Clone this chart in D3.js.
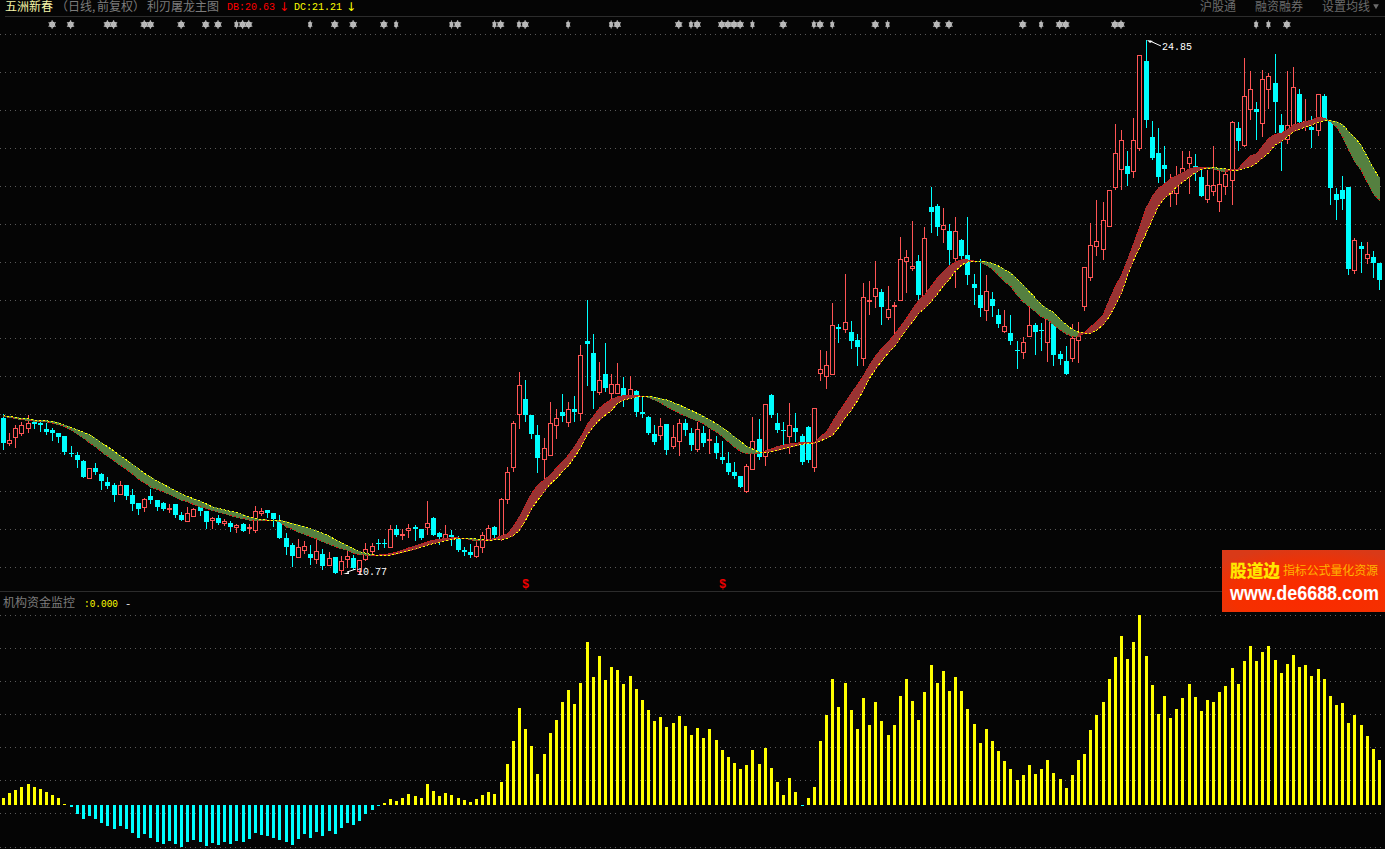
<!DOCTYPE html>
<html><head><meta charset="utf-8">
<script src="https://cdn.jsdelivr.net/npm/d3@7/dist/d3.min.js"></script>
<style>html,body{margin:0;padding:0;background:#050505;overflow:hidden}svg{display:block}</style>
</head><body><svg id="c" width="1385" height="849"></svg>
<script>
const highs=[14.99,14.49,14.70,14.78,14.96,14.83,14.80,14.75,14.62,14.49,
14.41,14.14,13.99,13.78,13.57,13.70,13.43,13.33,13.17,13.22,
13.12,13.01,12.64,12.77,13.01,12.72,12.67,12.62,12.62,12.40,
12.54,12.51,12.59,12.43,12.27,12.33,12.22,12.17,12.09,12.11,
12.09,12.56,12.51,12.46,12.38,12.33,11.85,11.59,11.69,11.64,
11.54,11.72,11.43,11.35,11.22,11.24,11.40,11.27,11.14,11.59,
11.59,11.69,11.69,12.06,12.06,11.96,12.09,12.06,11.96,12.69,
12.27,11.88,12.06,11.93,11.77,11.48,11.56,11.61,11.88,12.06,
12.04,12.77,13.59,14.80,16.10,15.89,14.96,14.70,14.36,15.31,
15.12,15.52,15.31,15.46,16.80,18.00,17.10,16.36,16.86,16.04,
16.33,15.96,15.99,15.62,15.44,14.94,14.70,14.88,14.73,14.70,
14.86,14.86,14.62,14.78,14.67,14.59,14.41,14.28,13.99,13.72,
13.35,13.67,14.91,14.86,15.25,15.52,15.01,14.78,15.28,15.01,
14.46,14.67,15.15,16.68,16.65,17.92,17.36,18.68,17.44,17.10,
18.44,18.50,19.02,18.28,18.36,17.94,19.66,19.31,20.08,19.18,
19.92,20.97,20.53,20.42,20.00,20.18,19.60,20.18,18.68,19.08,
18.65,18.21,17.76,17.73,17.60,16.91,17.02,17.89,17.39,17.39,
17.60,17.47,16.65,16.78,17.36,17.41,18.87,20.03,20.63,20.58,
20.90,22.64,22.48,21.92,22.79,24.46,24.85,22.71,22.53,22.06,
21.31,21.53,21.92,21.92,21.85,21.42,21.42,22.06,21.40,21.42,
22.71,22.69,24.38,24.03,23.22,24.06,23.98,24.48,22.90,24.03,
24.14,23.56,23.30,22.85,23.43,23.43,22.74,20.95,21.27,20.97,
19.63,19.52,19.52,19.29,18.97];
const bodyTops=[14.88,14.30,14.62,14.70,14.75,14.78,14.75,14.59,14.57,14.49,
14.41,13.96,13.91,13.75,13.57,13.57,13.41,13.20,13.12,13.12,
13.12,12.85,12.64,12.75,12.83,12.72,12.64,12.51,12.62,12.33,
12.38,12.48,12.54,12.43,12.25,12.25,12.17,12.11,12.06,12.09,
12.01,12.43,12.43,12.46,12.38,12.14,11.72,11.54,11.48,11.51,
11.30,11.38,11.30,11.19,11.22,11.11,11.24,11.19,11.14,11.43,
11.51,11.59,11.59,11.96,11.96,11.82,11.98,12.01,11.96,12.11,
12.25,11.85,11.82,11.80,11.69,11.40,11.35,11.51,11.80,11.98,
12.01,12.75,13.46,14.75,15.75,15.38,14.96,14.43,14.09,14.75,
14.88,15.04,15.12,15.12,16.54,16.91,16.60,15.89,16.04,15.78,
15.78,15.67,15.65,15.60,15.04,14.91,14.46,14.67,14.73,14.38,
14.75,14.75,14.49,14.59,14.49,14.33,14.23,13.86,13.70,13.46,
13.35,13.62,14.28,14.33,15.25,15.49,14.75,14.57,14.70,14.62,
14.41,14.65,15.15,16.18,16.28,17.34,17.28,17.41,17.15,16.94,
18.07,18.00,18.31,18.21,17.76,17.86,19.08,19.13,18.89,19.02,
19.63,20.45,20.47,19.97,19.81,19.81,19.58,19.18,18.42,18.13,
18.23,18.02,17.60,17.31,17.12,16.68,16.89,17.34,17.34,17.20,
17.57,17.44,16.57,16.39,16.99,17.10,18.87,19.45,19.55,20.11,
20.90,21.87,22.21,21.53,22.21,24.46,24.30,22.29,21.87,21.56,
21.05,21.03,21.48,21.77,21.53,21.24,21.03,21.03,21.05,21.32,
22.69,22.53,23.37,23.56,23.03,23.82,23.90,23.72,22.61,22.61,
23.61,23.43,22.71,22.56,23.43,23.37,22.71,20.79,20.90,20.97,
19.58,19.42,19.21,19.13,18.97];
const bodyBottoms=[14.23,14.23,14.38,14.49,14.62,14.73,14.70,14.51,14.49,14.38,
13.99,13.93,13.78,13.33,13.30,13.46,13.22,13.09,12.85,12.88,
12.83,12.62,12.48,12.54,12.72,12.54,12.48,12.48,12.33,12.19,
12.17,12.30,12.43,12.14,12.19,12.11,12.11,12.01,12.01,11.90,
11.98,11.93,12.38,12.38,12.22,11.72,11.48,11.24,11.22,11.40,
11.19,11.17,10.98,11.01,10.80,10.88,11.17,10.93,10.85,11.17,
11.38,11.56,11.58,11.48,11.80,11.80,11.93,11.96,11.72,12.01,
11.80,11.75,11.72,11.75,11.40,11.35,11.27,11.24,11.48,11.69,
11.80,11.77,12.75,13.59,14.99,14.96,14.46,13.83,13.80,13.91,
14.70,14.94,14.78,15.04,15.01,16.83,15.60,15.57,15.67,15.54,
15.54,15.44,15.46,15.04,14.99,14.49,14.25,14.43,14.04,14.14,
14.28,14.57,14.17,14.07,14.23,14.30,13.96,13.78,13.46,13.35,
13.06,12.96,13.54,13.86,13.88,14.96,14.57,14.54,14.41,14.51,
13.72,13.78,13.59,16.07,15.99,16.04,17.23,17.23,16.91,16.76,
16.47,17.97,18.10,17.81,17.55,17.84,18.00,19.02,18.84,18.13,
18.10,20.31,19.92,19.87,19.31,19.10,19.15,18.65,18.31,17.78,
17.73,17.84,17.36,17.18,16.91,16.65,16.62,17.05,17.15,17.18,
16.89,16.54,16.44,16.04,16.47,16.94,17.84,18.60,19.42,19.34,
19.95,20.97,21.45,21.32,21.40,22.00,22.74,21.74,21.24,21.45,
20.82,20.82,21.32,21.61,21.42,20.74,20.66,20.87,20.61,21.00,
21.16,22.19,22.08,23.03,22.95,22.66,23.56,23.22,22.40,22.24,
22.61,22.69,22.61,22.48,22.48,22.74,20.95,20.63,20.66,18.81,
18.79,19.34,19.10,18.97,18.52];
const lows=[14.07,14.17,14.12,14.43,14.51,14.62,14.54,14.46,14.30,14.25,
13.93,13.88,13.59,13.33,13.30,13.41,13.01,13.04,12.69,12.88,
12.75,12.46,12.35,12.43,12.64,12.46,12.46,12.40,12.27,12.19,
12.17,12.30,12.33,11.98,11.98,12.09,12.06,11.90,11.88,11.90,
11.85,11.88,12.33,12.27,12.04,11.72,11.30,10.98,11.22,11.32,
11.03,11.06,10.90,11.01,10.80,10.77,10.95,10.90,10.80,11.14,
11.30,11.43,11.48,11.48,11.77,11.69,11.75,11.67,11.69,11.82,
11.80,11.56,11.67,11.54,11.38,11.27,11.22,11.22,11.35,11.69,
11.69,11.67,12.64,13.49,14.62,14.80,14.36,13.46,13.30,13.91,
14.36,14.80,14.67,14.80,14.83,15.75,15.15,15.52,15.60,15.36,
15.54,15.20,15.41,14.94,14.91,14.46,14.20,14.33,13.93,14.09,
13.91,14.43,14.04,14.01,14.14,13.96,13.83,13.70,13.41,13.30,
13.06,12.93,13.54,13.80,13.64,14.91,14.51,14.17,13.96,14.28,
13.67,13.72,13.49,15.89,15.67,16.04,16.89,17.15,16.73,16.28,
16.28,17.63,17.81,17.36,17.50,17.07,18.00,18.21,18.79,17.94,
18.10,19.79,19.71,19.52,18.92,18.34,19.05,18.42,17.89,17.57,
17.47,17.57,17.28,17.15,16.83,16.20,16.47,17.05,16.57,16.68,
16.39,16.28,16.31,16.04,16.39,16.36,17.73,18.52,19.18,19.08,
19.95,20.92,20.92,21.03,21.24,21.95,22.56,21.71,21.11,21.03,
20.47,20.53,21.24,20.82,21.16,20.74,20.58,20.76,20.34,20.79,
20.53,21.95,22.06,22.77,22.24,22.32,23.06,22.42,21.42,22.13,
22.48,22.64,22.48,22.03,22.35,22.74,20.53,20.13,20.39,18.68,
18.71,18.73,18.97,18.60,18.28];
const risingDays=[1,2,3,4,14,19,23,27,30,31,34,36,38,40,41,42,48,49,51,53,55,56,58,59,60,63,65,66,69,72,77,78,79,81,82,83,84,88,89,90,92,94,97,99,100,102,107,109,110,113,115,121,122,124,128,132,133,134,135,137,140,141,142,144,145,146,147,148,150,153,155,160,163,166,167,170,174,175,176,177,178,179,180,181,182,184,185,190,191,192,193,196,197,198,199,200,202,203,205,206,209,210,212,214,220,222];
const seriesDC=[14.94,14.92,14.90,14.87,14.86,14.83,14.82,14.81,14.79,14.75,
14.69,14.63,14.57,14.51,14.44,14.34,14.22,14.12,14.01,13.89,
13.78,13.66,13.54,13.42,13.32,13.22,13.14,13.05,12.97,12.88,
12.81,12.75,12.69,12.62,12.54,12.50,12.46,12.42,12.39,12.33,
12.27,12.23,12.21,12.19,12.19,12.18,12.15,12.10,12.06,12.01,
11.96,11.90,11.84,11.77,11.68,11.60,11.51,11.43,11.36,11.32,
11.28,11.26,11.26,11.27,11.30,11.34,11.38,11.42,11.48,11.53,
11.57,11.61,11.65,11.68,11.71,11.71,11.71,11.69,11.67,11.66,
11.67,11.68,11.71,11.78,11.93,12.19,12.50,12.72,12.94,13.14,
13.29,13.47,13.63,13.86,14.11,14.43,14.65,14.83,14.96,15.09,
15.27,15.36,15.40,15.44,15.46,15.46,15.43,15.39,15.36,15.29,
15.23,15.15,15.08,15.00,14.92,14.83,14.74,14.63,14.52,14.38,
14.26,14.13,14.06,13.98,13.97,14.00,14.03,14.07,14.11,14.15,
14.19,14.21,14.22,14.28,14.35,14.43,14.64,14.88,15.09,15.33,
15.62,15.94,16.18,16.39,16.59,16.76,16.99,17.22,17.42,17.65,
17.78,17.95,18.15,18.36,18.54,18.77,18.92,19.00,19.02,19.02,
19.00,18.96,18.89,18.79,18.70,18.54,18.39,18.21,18.04,17.86,
17.75,17.66,17.49,17.34,17.22,17.15,17.12,17.12,17.20,17.34,
17.55,17.86,18.17,18.65,19.05,19.40,19.75,20.11,20.46,20.68,
20.81,20.98,21.11,21.23,21.35,21.44,21.47,21.48,21.47,21.45,
21.42,21.42,21.47,21.51,21.60,21.75,21.88,22.08,22.17,22.30,
22.43,22.50,22.55,22.61,22.68,22.72,22.72,22.70,22.61,22.43,
22.26,22.08,21.77,21.47,21.21];
const seriesDB=[14.92,14.90,14.87,14.84,14.82,14.80,14.79,14.78,14.75,14.71,
14.65,14.57,14.46,14.36,14.23,14.12,13.99,13.87,13.76,13.64,
13.53,13.41,13.27,13.17,13.06,13.00,12.95,12.87,12.79,12.72,
12.67,12.60,12.54,12.50,12.45,12.40,12.36,12.31,12.27,12.23,
12.19,12.19,12.19,12.18,12.18,12.14,12.02,11.96,11.88,11.82,
11.75,11.69,11.62,11.56,11.49,11.44,11.40,11.32,11.28,11.27,
11.26,11.27,11.28,11.31,11.35,11.40,11.46,11.51,11.56,11.62,
11.66,11.68,11.71,11.72,11.72,11.71,11.68,11.64,11.65,11.67,
11.71,11.77,11.82,12.02,12.28,12.59,12.90,13.12,13.25,13.38,
13.56,13.73,13.91,14.14,14.39,14.70,14.92,15.14,15.27,15.38,
15.44,15.47,15.48,15.47,15.46,15.43,15.36,15.28,15.18,15.09,
15.01,14.94,14.87,14.81,14.73,14.62,14.52,14.40,14.26,14.12,
14.00,13.95,13.95,13.95,14.01,14.07,14.13,14.17,14.20,14.22,
14.23,14.24,14.23,14.39,14.52,14.79,15.05,15.28,15.53,15.75,
16.00,16.28,16.53,16.72,16.89,17.07,17.29,17.51,17.76,17.99,
18.13,18.35,18.57,18.74,18.89,19.00,19.05,19.05,19.02,19.00,
18.92,18.81,18.65,18.48,18.35,18.13,17.95,17.82,17.69,17.55,
17.47,17.34,17.21,17.10,17.03,17.03,17.13,17.29,17.42,17.60,
17.99,18.35,18.65,19.05,19.49,19.93,20.41,20.72,20.94,21.05,
21.20,21.27,21.35,21.45,21.49,21.49,21.49,21.45,21.40,21.38,
21.42,21.45,21.64,21.79,21.85,22.06,22.26,22.36,22.39,22.48,
22.61,22.65,22.70,22.74,22.81,22.79,22.70,22.56,22.30,21.95,
21.64,21.42,21.11,20.80,20.63];
const fundFlow=[7,12,15,18,21,18,16,13,10,7,1,-2,-9,-14,-11,-14,-18,-21,-24,-21,-24,-28,-33,-29,-33,-37,-39,-36,-39,-42,-37,-35,-37,-41,-38,-40,-37,-39,-36,-37,-34,-28,-30,-31,-33,-35,-37,-40,-34,-29,-33,-27,-31,-26,-29,-23,-18,-20,-16,-9,-5,-1,2,6,4,7,11,9,7,21,14,9,12,10,7,
5,3,6,10,13,11,23,41,64,97,76,59,31,51,72,85,103,115,101,122,163,128,149,125,138,135,121,129,116,105,95,84,88,78,82,89,79,70,77,67,76,65,55,48,42,36,40,55,41,57,37,23,10,27,13,-1,7,18,64,90,126,98,122,95,76,107,80,103,84,70,80,109,126,104,85,
113,140,122,134,114,128,114,96,81,62,76,64,54,44,36,25,30,40,31,36,45,32,26,17,30,45,51,75,90,103,126,148,169,146,163,190,149,120,91,109,87,96,107,121,108,94,105,103,113,119,137,121,144,159,144,153,159,145,132,141,150,138,140,129,136,126,109,100,102,82,90,80,69,56,45];
const wideStars=[8,11,17,18,23,24,29,33,35,39,40,54,57,62,74,81,85,100,110,113,117,118,119,120,127,133,142,152,154,166,172,173,181,182,209];
const narrowStars=[38,50,64,73,80,84,92,99,112,122,132,135,144,169,204,206];
const dollarDays=[85,117];
const priceGrid=[25.01,24.01,23.01,22.00,21.00,20.00,19.00,17.99,16.99,15.99,14.99,13.96,12.96,11.96,10.95];
const flowGrid=[190,157,124,91,58,25,-8,-42];

[highs,bodyTops,bodyBottoms,lows,seriesDC,seriesDB,fundFlow].forEach((a,k)=>{if(a.length!==225)throw new Error('len '+k+' '+a.length)});

const W=1385,BG='#050505',RED='#ff5555',CY='#00ffff',YE='#ffff00',GRID='#5a5a5a',LN='#2c2c2c';
const CJK='"Noto Sans CJK SC","Noto Sans",sans-serif',MONO='"Liberation Mono","DejaVu Sans Mono",monospace';
const svg=d3.select('#c');
svg.append('rect').attr('width',W).attr('height',849).attr('fill',BG);

const x=d3.scaleLinear().domain([0,224]).range([3.5,1379.5]);
const px=i=>Math.floor(x(i));
const y=d3.scaleLinear().domain([10.77,24.85]).range([574,40]);
const yFlow=d3.scaleLinear().domain([0,190]).range([805,615]);
const rising=new Set(risingDays);

// grid
const gridDash='1 4';
svg.append('g').selectAll('line').data(priceGrid).join('line')
 .attr('x1',0).attr('x2',W).attr('y1',d=>Math.round(y(d))+.5).attr('y2',d=>Math.round(y(d))+.5)
 .attr('stroke',GRID).attr('stroke-dasharray',gridDash);
svg.append('g').selectAll('line').data(flowGrid).join('line')
 .attr('x1',0).attr('x2',W).attr('y1',d=>Math.round(yFlow(d))+.5).attr('y2',d=>Math.round(yFlow(d))+.5)
 .attr('stroke',GRID).attr('stroke-dasharray',gridDash);
svg.append('line').attr('x1',5).attr('x2',W).attr('y1',16.5).attr('y2',16.5).attr('stroke',LN);
svg.append('line').attr('x1',0).attr('x2',W).attr('y1',591.5).attr('y2',591.5).attr('stroke',LN);

// candles
const idx=d3.range(225);
const g=svg.append('g').attr('shape-rendering','crispEdges');
g.selectAll('line.w').data(idx).join('line').attr('class','w')
 .attr('x1',i=>px(i)+.5).attr('x2',i=>px(i)+.5)
 .attr('y1',i=>Math.round(y(highs[i]))).attr('y2',i=>Math.round(y(lows[i]))+1)
 .attr('stroke',i=>rising.has(i)?RED:CY);
g.selectAll('rect.b').data(idx).join('rect').attr('class','b')
 .attr('x',i=>rising.has(i)?px(i)-2+.5:px(i)-2)
 .attr('width',i=>rising.has(i)?4:5)
 .attr('y',i=>{const t=Math.round(y(bodyTops[i]));return rising.has(i)?t+.5:t})
 .attr('height',i=>Math.max(1,Math.round(y(bodyBottoms[i]))-Math.round(y(bodyTops[i]))))
 .attr('fill',i=>rising.has(i)?BG:CY)
 .attr('stroke',i=>rising.has(i)?RED:'none');

// band
const band=svg.append('g').attr('shape-rendering','crispEdges');
const area=d3.area().x(i=>x(i)).y0(i=>y(seriesDC[i])).y1(i=>y(seriesDB[i]));
const bandColor=i=>seriesDB[i+1]>=seriesDC[i+1]?'#993333':'#558040';
band.selectAll('path').data(idx.slice(0,224)).join('path')
 .attr('d',i=>area([i,i+1]))
 .attr('fill',bandColor).attr('stroke',bandColor).attr('stroke-width',1);
const line=d3.line().x(i=>x(i));
band.append('path').attr('d',line.y(i=>y(seriesDB[i]))(idx)).attr('fill','none').attr('stroke','#e01010').attr('stroke-dasharray','1.5 3');
band.append('path').attr('d',line.y(i=>y(seriesDC[i]))(idx)).attr('fill','none').attr('stroke',YE).attr('stroke-dasharray','2 2');

// stars
const stars=svg.append('g');
const starAt=sel=>sel.each(function(){
  const s=d3.select(this);
  s.append('circle').attr('r',2.9).attr('fill','#c8c8c8');
  s.append('path').attr('d',d3.symbol(d3.symbolAsterisk,48)()).attr('stroke','#b4b4b4').attr('stroke-width',1.2).attr('fill','none');
});
stars.selectAll('g.ws').data(wideStars).join('g').attr('class','ws')
 .attr('transform',i=>`translate(${x(i)-.5},24.5)`).call(starAt);
stars.selectAll('g.ns').data(narrowStars).join('g').attr('class','ns')
 .attr('transform',i=>`translate(${x(i)-.5},24.5) scale(.6,1)`).call(starAt);

// dollar signals
svg.append('g').selectAll('text').data(dollarDays).join('text')
 .attr('x',i=>px(i)+.5).attr('y',588).attr('text-anchor','middle')
 .attr('font-family',MONO).attr('font-weight','bold').attr('font-size',12).attr('fill','#f00000').text('$');

// extremes
const hiI=d3.maxIndex(highs),loI=d3.minIndex(lows);
const note=svg.append('g');
note.append('path').attr('d',`M${px(hiI)+1},${y(highs[hiI])}l6,1l-3,2z`).attr('fill','#fff');
note.append('path').attr('d',`M${px(hiI)+4},${y(highs[hiI])+1}L${px(hiI)+15},${y(highs[hiI])+6}`).attr('stroke','#fff').attr('fill','none');
note.append('text').attr('x',px(hiI)+16).attr('y',y(highs[hiI])+10).attr('font-family',MONO).attr('font-size',10.5).attr('textLength',30).attr('lengthAdjust','spacingAndGlyphs').attr('fill','#fff').text(highs[hiI].toFixed(2));
note.append('path').attr('d',`M${px(loI)+2},${y(lows[loI])}l6,-2l0,2z`).attr('fill','#fff');
note.append('path').attr('d',`M${px(loI)+6},${y(lows[loI])-2}L${px(loI)+15},${y(lows[loI])-5}`).attr('stroke','#fff').attr('fill','none');
note.append('text').attr('x',px(loI)+16).attr('y',y(lows[loI])+1).attr('font-family',MONO).attr('font-size',10.5).attr('textLength',30).attr('lengthAdjust','spacingAndGlyphs').attr('fill','#fff').text(lows[loI].toFixed(2));

// lower panel bars
svg.append('g').attr('shape-rendering','crispEdges').selectAll('rect').data(fundFlow).join('rect')
 .attr('x',(d,i)=>px(i)-1).attr('width',3)
 .attr('y',d=>d>=0?yFlow(d):yFlow(0))
 .attr('height',d=>Math.abs(yFlow(d)-yFlow(0)))
 .attr('fill',d=>d>=0?YE:CY);

// header text
const T=(s,xx,yy,fill,fam,size,extra)=>{const t=svg.append('text').attr('x',xx).attr('y',yy).attr('fill',fill).attr('font-family',fam).attr('font-size',size).text(s);if(extra)extra(t);return t};
const fit=w=>t=>t.attr('textLength',w).attr('lengthAdjust','spacingAndGlyphs');
T('五洲新春',5,11,'#f4f4a8',CJK,12);
T('（日线,',56,11,'#7c7c7c',CJK,12);
T('前复权）',97,11,'#7c7c7c',CJK,12);
T('利刃屠龙主图',147,11,'#7c7c7c',CJK,12);
T('DB:'+seriesDB[224].toFixed(2),227,10,'#ff0000',MONO,10,fit(48));
T('↓',279,11,'#ff0000','"DejaVu Sans"',12);
T('DC:'+seriesDC[224].toFixed(2),294,10,YE,MONO,10,fit(48));
T('↓',346,11,YE,'"DejaVu Sans"',12);
T('沪股通',1200,11,'#6c6c6c',CJK,12);
T('融资融券',1255,11,'#6c6c6c',CJK,12);
T('设置均线',1322,11,'#6c6c6c',CJK,12);
svg.append('path').attr('d',d3.symbol(d3.symbolTriangle,14)()).attr('transform','translate(1376,6) rotate(180)').attr('fill','#6c6c6c');
T('机构资金监控',3,607,'#7c7c7c',CJK,12);
T(':'+(0).toFixed(3),84,607,YE,MONO,10.5,fit(34));
T('-',125,607,'#e8e8e8',MONO,10.5);

// banner
const defs=svg.append('defs');
const grad=defs.append('radialGradient').attr('id','bn').attr('cx','.55').attr('cy','.75').attr('r','.8');
grad.append('stop').attr('offset','0').attr('stop-color','#fb2a00');
grad.append('stop').attr('offset','.6').attr('stop-color','#f53000');
grad.append('stop').attr('offset','1').attr('stop-color','#d93a18');
svg.append('rect').attr('x',1222).attr('y',550).attr('width',163).attr('height',62).attr('fill','url(#bn)');
T('股道边',1230,577,'#ffe600',CJK,17,t=>t.attr('font-weight','900').attr('textLength',50).attr('lengthAdjust','spacingAndGlyphs'));
T('指标公式量化资源',1283,575,'#ffb400',CJK,12,t=>t.attr('textLength',95));
T('www.de6688.com',1230,600,'#ffffff','"Liberation Sans"',20,t=>t.attr('font-weight','bold').attr('textLength',149).attr('lengthAdjust','spacingAndGlyphs'));
</script></body></html>
